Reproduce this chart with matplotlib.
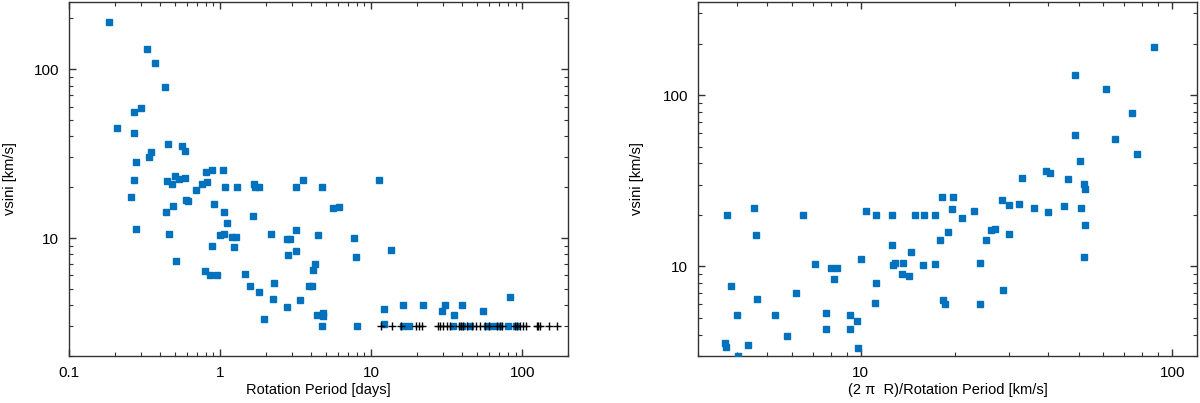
import matplotlib
matplotlib.use("Agg")
import matplotlib.pyplot as plt
from matplotlib.ticker import LogLocator, FuncFormatter, NullFormatter

plt.rcParams["font.family"] = ["Liberation Sans", "DejaVu Sans"]
plt.rcParams["font.size"] = 10.5

# --- left panel: rotation period [days] vs vsini [km/s] ---
period = [0.184, 0.329, 0.370, 0.43, 0.299, 0.268, 0.209, 0.268, 0.451, 0.560,
          0.581, 0.349, 0.339, 0.279, 0.80, 0.889, 1.047, 0.50, 3.53, 0.448,
          0.537, 0.589, 0.268, 0.481, 0.764, 0.821, 1.08, 1.30, 1.68, 1.71,
          1.80, 3.18, 4.73, 0.259, 0.69, 0.598, 0.617, 0.489, 0.436, 0.916,
          1.06, 1.64, 5.57, 6.13, 1.11, 0.279, 0.457, 1.0, 1.06, 1.20,
          1.27, 2.17, 3.17, 2.78, 2.89, 4.41, 7.64, 0.881, 1.23, 3.18,
          2.83, 7.87, 4.24, 4.11, 0.51, 0.796, 0.855, 0.951, 1.45, 1.58,
          1.81, 2.28, 2.23, 2.78, 3.39, 3.87, 4.03, 1.95, 4.36, 4.81,
          4.78, 4.75, 8.1, 13.4, 12.1, 12.2, 16.1, 22.1, 29.2, 30.5,
          35.1, 39.8, 54.5, 82.4, 16.1, 17.8, 34.7, 39.6, 44.8, 58.3,
          64.0, 70.1, 80.0, 91.2, 11.3]
vsini = [190, 131, 109, 78.9, 58.5, 55.6, 45.1, 41.6, 36.1, 35.1,
         32.7, 32.1, 30.1, 28.2, 24.5, 25.3, 25.4, 23.3, 22.0, 21.9,
         22.4, 22.7, 22.0, 20.8, 21.0, 21.6, 20.0, 20.0, 21.0, 20.0,
         20.0, 20.0, 20.0, 17.4, 19.2, 16.7, 16.5, 15.5, 14.3, 15.8,
         14.2, 13.5, 15.0, 15.2, 12.2, 11.3, 10.5, 10.4, 10.5, 10.2,
         10.2, 10.6, 11.1, 9.8, 9.8, 10.4, 10.0, 9.0, 8.8, 8.4,
         7.96, 7.69, 7.0, 6.5, 7.3, 6.4, 6.0, 6.0, 6.1, 5.2,
         4.8, 5.4, 4.35, 3.9, 4.3, 5.2, 5.2, 3.33, 3.5, 3.6,
         3.45, 3.0, 3.0, 8.45, 3.8, 3.1, 4.0, 4.0, 3.7, 4.0,
         3.5, 4.0, 3.7, 4.5, 3.0, 3.0, 3.0, 3.0, 3.0, 3.0,
         3.0, 3.0, 3.0, 3.0, 22.0]

# upper limits (vsini < 3 km/s), drawn as black crosses
period_lim = [11.5, 13.8, 15.8, 19.6, 20.6, 21.7, 27.7, 28.6, 29.8, 31.9,
              33.2, 38.1, 39.3, 40.5, 43.0, 46.2, 49.3, 52.7, 56.3, 60.4,
              67.9, 70.7, 73.7, 89.0, 92.2, 97.0, 100.5, 106, 124, 127,
              131, 149, 168]
vsini_lim = [3.0] * len(period_lim)

# --- right panel: equatorial velocity (2 pi R)/P [km/s] vs vsini ---
veq = [87.3, 48.7, 61.2, 74.2, 48.6, 65.3, 76.9, 50.5, 39.2, 40.5,
       33.0, 46.1, 3.72, 4.55, 4.59, 6.50, 10.4, 11.2, 12.6, 14.9,
       15.9, 17.3, 12.6, 14.5, 7.15, 10.0, 12.7, 12.9, 13.7, 15.8,
       17.3, 8.02, 8.36, 8.22, 13.6, 14.3, 3.83, 11.2, 6.17, 4.65,
       11.1, 3.99, 5.30, 7.71, 9.20, 9.73, 7.73, 9.24, 5.78, 3.66,
       3.69, 4.35, 9.80, 4.03, 51.9, 52.6, 18.2, 19.8, 28.3, 19.6,
       29.9, 32.1, 35.9, 44.9, 50.9, 39.9, 23.1, 21.1, 52.5, 26.2,
       26.9, 19.1, 29.8, 17.9, 25.2, 24.1, 52.2, 28.6, 18.4, 18.6,
       24.2]
vsini_r = [191, 131, 109, 78.9, 58.6, 55.6, 45.2, 41.5, 36.1, 35.1,
           32.8, 32.3, 20.0, 21.9, 15.2, 20.0, 21.0, 20.0, 20.0, 20.0,
           20.0, 20.0, 13.4, 12.2, 10.4, 11.1, 10.2, 10.5, 10.5, 10.2,
           10.4, 9.8, 9.8, 8.4, 9.0, 8.8, 7.7, 8.0, 6.98, 6.47,
           6.08, 5.2, 5.2, 5.38, 5.2, 4.79, 4.29, 4.33, 3.9, 3.58,
           3.39, 3.50, 3.33, 2.99, 30.1, 28.2, 25.4, 25.4, 24.3, 21.6,
           22.8, 23.3, 21.9, 22.4, 22.0, 20.8, 21.0, 19.1, 17.4, 16.4,
           16.5, 15.8, 15.5, 14.2, 14.3, 10.5, 11.3, 7.28, 6.35, 6.0,
           6.0]

blue = "#0072bd"
W, H = 1200, 403
fig = plt.figure(figsize=(W / 100, H / 100), dpi=100)


def style_axes(ax):
    ax.set_xscale("log")
    ax.set_yscale("log")
    for s in ax.spines.values():
        s.set_color("#333333")
        s.set_linewidth(1.0)
    for axis in (ax.xaxis, ax.yaxis):
        axis.set_major_locator(LogLocator(base=10, numticks=10))
        axis.set_minor_locator(LogLocator(base=10, subs=range(2, 10), numticks=20))
        axis.set_major_formatter(FuncFormatter(lambda v, _: f"{v:g}"))
        axis.set_minor_formatter(NullFormatter())
    ax.tick_params(which="both", direction="in", top=True, right=True,
                   color="#333333", labelsize=11)
    ax.tick_params(which="major", length=5, width=1.0, pad=7)
    ax.tick_params(which="minor", length=3, width=0.8)


# left axes
ax1 = fig.add_axes([69 / W, (H - 356) / H, 499 / W, 354 / H])
style_axes(ax1)
ax1.plot(period, vsini, "s", color=blue, ms=5, mec=blue, zorder=3)
ax1.plot(period_lim, vsini_lim, "+", color="black", ms=6, mew=1.0, zorder=4)
ax1.set_xlim(0.1, 200)
ax1.set_ylim(2, 250)
ax1.set_xlabel("Rotation Period [days]", va="center", fontsize=10.5)
ax1.set_ylabel("vsini [km/s]", va="center", fontsize=10.5)
ax1.xaxis.set_label_coords(0.5, -0.096)
ax1.yaxis.set_label_coords(-0.118, 0.5)

# right axes
ax2 = fig.add_axes([698 / W, (H - 356) / H, 499 / W, 354 / H])
style_axes(ax2)
ax2.plot(veq, vsini_r, "s", color=blue, ms=5, mec=blue, zorder=3)
ax2.set_xlim(3, 120)
ax2.set_ylim(3, 350)
ax2.set_xlabel("(2 \u03c0  R)/Rotation Period [km/s]", va="center", fontsize=10.5)
ax2.set_ylabel("vsini [km/s]", va="center", fontsize=10.5)
ax2.xaxis.set_label_coords(0.5, -0.096)
ax2.yaxis.set_label_coords(-0.122, 0.5)

fig.savefig("out.png", dpi=100)
